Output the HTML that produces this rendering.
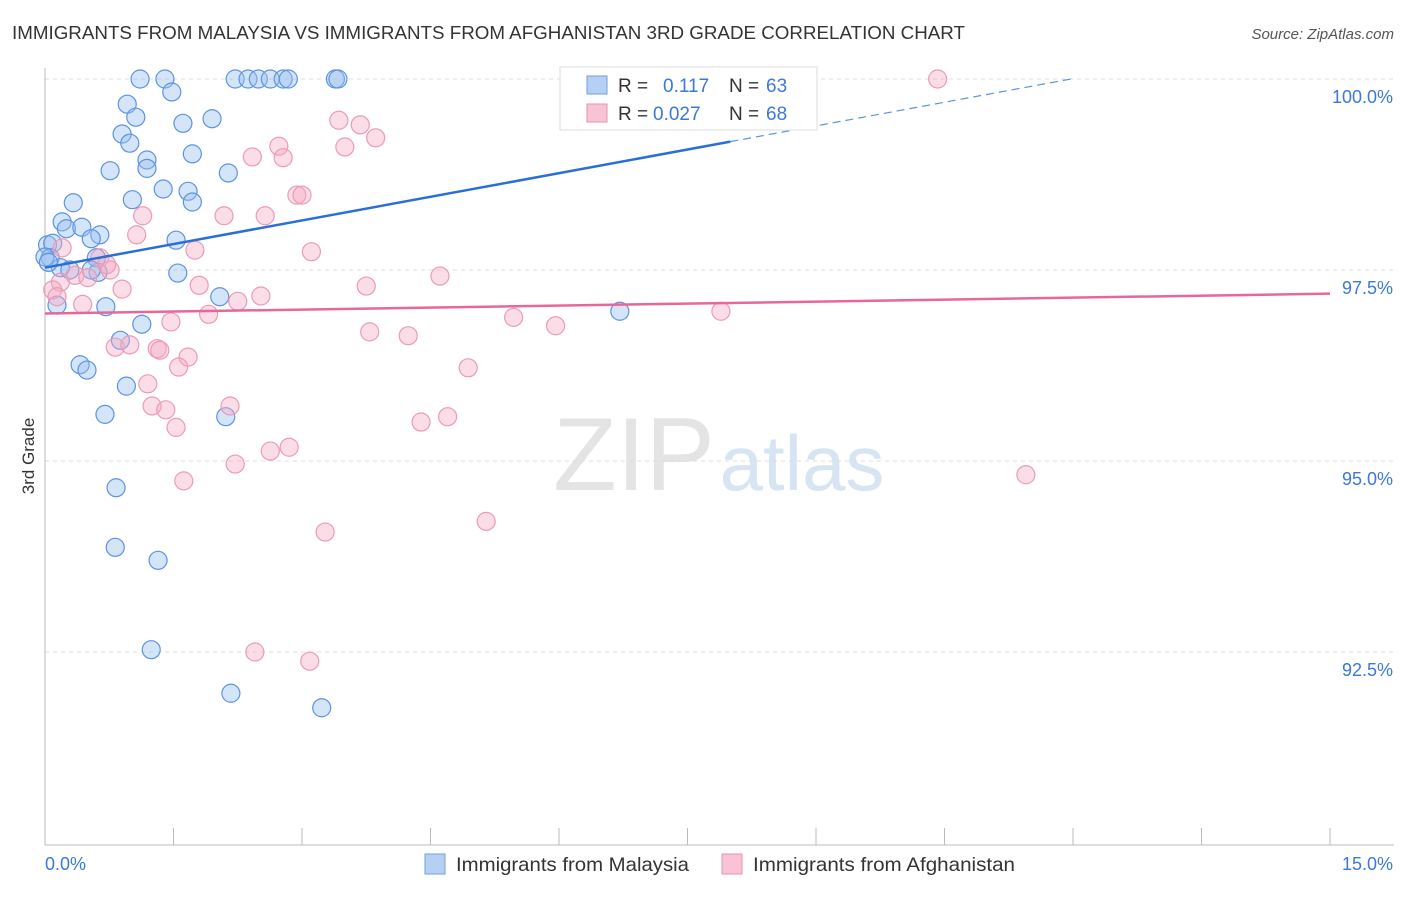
<!DOCTYPE html>
<html><head><meta charset="utf-8"><style>
body{margin:0;background:#fff;font-family:"Liberation Sans",sans-serif;}
svg text{font-family:"Liberation Sans",sans-serif;}
</style></head><body>
<svg id="chart" width="1406" height="892">
<text x="12" y="39" font-size="18" fill="#333" textLength="953" lengthAdjust="spacingAndGlyphs">IMMIGRANTS FROM MALAYSIA VS IMMIGRANTS FROM AFGHANISTAN 3RD GRADE CORRELATION CHART</text>
<text x="1394" y="39" font-size="15" fill="#555" font-style="italic" text-anchor="end">Source: ZipAtlas.com</text>
<text transform="translate(34,456) rotate(-90)" font-size="17" fill="#333" text-anchor="middle">3rd Grade</text>
<g><text x="634" y="490" font-family="Liberation Serif" font-size="104" fill="#e4e4e4" text-anchor="middle">ZIP</text><text x="802" y="490" font-size="78" fill="#d6e4f4" text-anchor="middle">atlas</text></g>
<g id="grid"></g><g id="axes"></g><g id="pts"></g><g id="trend"></g>
<g>
<rect x="560" y="67" width="257" height="63" fill="#fff" stroke="#ddd"/>
<rect x="587" y="76" width="20" height="18" fill="#b5d0f3" stroke="#6fa0e0"/>
<text x="618" y="92" font-size="19" fill="#333">R = </text><text x="663" y="92" font-size="19" fill="#3b78d8">0.117</text>
<text x="729" y="92" font-size="19" fill="#333">N = </text><text x="766" y="92" font-size="19" fill="#3b78d8">63</text>
<rect x="587" y="104" width="20" height="18" fill="#f8c4d4" stroke="#e890b0"/>
<text x="618" y="120" font-size="19" fill="#333">R = </text><text x="653" y="120" font-size="19" fill="#3b78d8">0.027</text>
<text x="729" y="120" font-size="19" fill="#333">N = </text><text x="766" y="120" font-size="19" fill="#3b78d8">68</text>
</g>
<g>
<rect x="425" y="854" width="20" height="20" fill="#b5d0f3" stroke="#6fa0e0"/>
<text x="456" y="871" font-size="19.5" fill="#333" textLength="233" lengthAdjust="spacingAndGlyphs">Immigrants from Malaysia</text>
<rect x="722" y="854" width="20" height="20" fill="#f8c4d4" stroke="#e890b0"/>
<text x="753" y="871" font-size="19.5" fill="#333" textLength="262" lengthAdjust="spacingAndGlyphs">Immigrants from Afghanistan</text>
</g>
</svg>
<script>
const xTicks=[0,1.5,3,4.5,6,7.5,9,10.5,12,13.5,15];
const yTicks=[92.5,95,97.5,100];
const yTickLabels=["92.5%","95.0%","97.5%","100.0%"];
const blueX=[1.11,1.40,2.22,2.37,2.49,2.63,2.78,2.84,3.39,3.42,0.96,1.48,1.06,1.61,1.95,0.90,0.99,1.72,1.19,1.19,0.76,2.14,1.38,1.67,1.02,1.72,0.33,0.20,0.25,0.43,0.64,0.54,1.53,0.03,0.09,0.06,0.18,0.00,0.04,0.60,1.55,0.29,0.62,0.54,2.04,0.14,0.71,1.13,0.88,6.71,0.41,0.49,0.95,0.70,2.11,0.83,0.82,1.32,1.24,2.17,3.23];
const blueY=[100,100,100,100,100,100,100,100,100,100,99.67,99.83,99.50,99.42,99.48,99.28,99.16,99.02,98.94,98.83,98.80,98.77,98.56,98.53,98.42,98.39,98.38,98.13,98.04,98.06,97.96,97.91,97.89,97.83,97.85,97.66,97.53,97.67,97.60,97.66,97.46,97.50,97.47,97.50,97.15,97.04,97.02,96.79,96.58,96.96,96.26,96.19,95.98,95.61,95.58,94.65,93.87,93.70,92.53,91.96,91.77];
const pinkX=[6.85,10.42,3.43,3.68,3.86,2.73,3.50,2.42,2.78,2.94,3.00,1.14,2.09,2.57,1.07,1.75,3.11,0.20,0.64,0.76,0.72,0.35,0.50,0.18,0.09,0.14,0.90,1.80,4.61,3.75,2.52,2.25,0.44,1.91,1.47,5.47,5.96,7.89,3.79,4.24,0.82,0.99,1.31,1.34,1.67,1.56,4.94,1.20,1.25,1.41,2.16,1.53,4.39,4.70,2.85,2.63,2.22,1.62,11.45,5.15,3.27,2.45,3.09];
const pinkY=[100,100,99.46,99.40,99.23,99.12,99.11,98.98,98.97,98.48,98.48,98.21,98.21,98.21,97.96,97.76,97.74,97.79,97.66,97.50,97.57,97.43,97.40,97.34,97.24,97.15,97.25,97.30,97.42,97.29,97.16,97.09,97.05,96.92,96.82,96.88,96.77,96.96,96.69,96.64,96.49,96.52,96.47,96.45,96.36,96.23,96.22,96.01,95.72,95.67,95.72,95.44,95.51,95.58,95.18,95.13,94.96,94.74,94.82,94.21,94.07,92.50,92.38];
const blueTrend=[97.53,99.18];
const pinkTrend=[96.93,97.19];
const NS="http://www.w3.org/2000/svg";
const X=v=>45+v/15*1285, Y=v=>79+(100-v)/2.5*191;
function mk(tag,attrs,parent){const e=document.createElementNS(NS,tag);for(const k in attrs)e.setAttribute(k,attrs[k]);document.getElementById(parent).appendChild(e);return e;}
yTicks.forEach((t,i)=>{
 const l=mk('line',{x1:45,x2:1394,y1:Y(t),y2:Y(t),stroke:'#ddd','stroke-dasharray':'4,4'},'grid');
 
 
 const tx=mk('text',{x:1393,y:Y(t)+24,'font-size':18,fill:'#3b78d8','text-anchor':'end'},'grid');tx.textContent=yTickLabels[i];
 
 
});
const ax=mk('line',{x1:45,x2:1394,y1:845,y2:845,stroke:'#bbb'},'axes');


const ay=mk('line',{x1:45,x2:45,y1:68,y2:845,stroke:'#bbb'},'axes');


xTicks.forEach(t=>{const l=mk('line',{x1:X(t),x2:X(t),y1:828,y2:845,stroke:'#bbb'},'axes');
 
 });
const t0=mk('text',{x:45,y:870,'font-size':18,fill:'#3b78d8'},'axes');t0.textContent=xTicks[0].toFixed(1)+'%';


const t1=mk('text',{x:1393,y:870,'font-size':18,fill:'#3b78d8','text-anchor':'end'},'axes');t1.textContent=xTicks[xTicks.length-1].toFixed(1)+'%';


blueX.forEach((x,i)=>{const c=mk('circle',{cx:X(x),cy:Y(blueY[i]),r:9,fill:'rgba(150,190,240,0.4)',stroke:'#5b93e0','stroke-width':1.2},'pts');
 
 });
pinkX.forEach((x,i)=>{const c=mk('circle',{cx:X(x),cy:Y(pinkY[i]),r:9,fill:'rgba(245,170,195,0.4)',stroke:'#ec9ab7','stroke-width':1.2},'pts');
 
 });
const slope=(blueTrend[1]-blueTrend[0])/8, xEnd=(100-blueTrend[0])/slope;
const b1=mk('line',{x1:X(0),y1:Y(blueTrend[0]),x2:X(8),y2:Y(blueTrend[1]),stroke:'#2a6fd6','stroke-width':2.5},'trend');


const b2=mk('line',{x1:X(8),y1:Y(blueTrend[1]),x2:X(xEnd),y2:Y(100),stroke:'#5b93e0','stroke-width':1.2,'stroke-dasharray':'8,5'},'trend');


const p1=mk('line',{x1:X(0),y1:Y(pinkTrend[0]),x2:X(15),y2:Y(pinkTrend[1]),stroke:'#e8679a','stroke-width':2.5},'trend');


</script>
</body></html>
